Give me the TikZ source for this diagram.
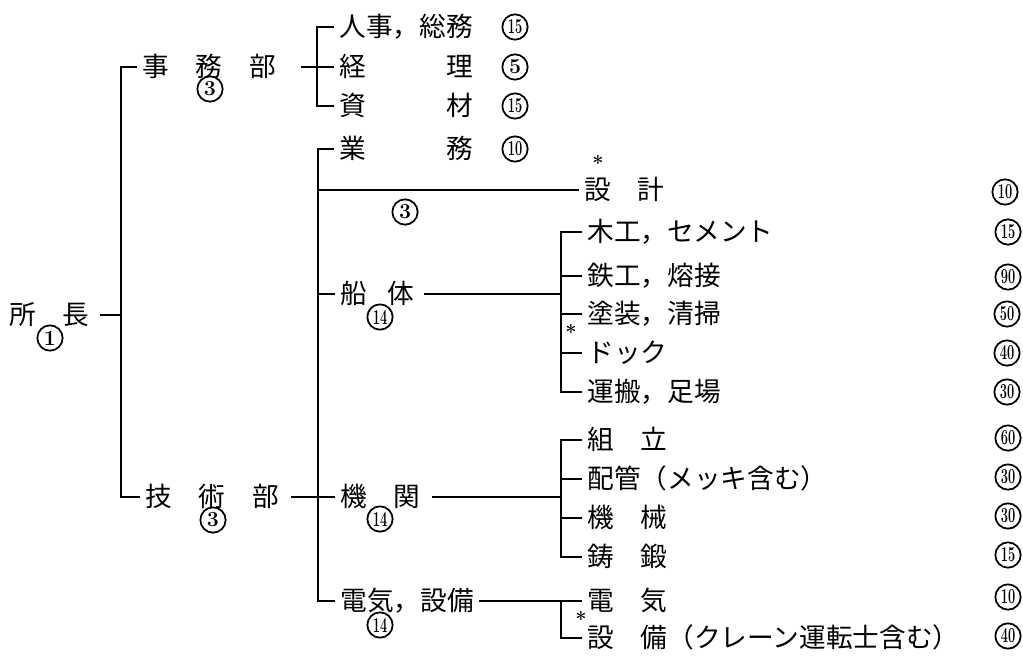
\documentclass[tikz,border=0pt]{standalone}
\usepackage{fontspec}
\usepackage{graphicx}
\newfontfamily\jp{Noto Sans CJK JP}
\newcommand\twod[1]{\scalebox{0.6}[1]{#1}}
\begin{document}
\begin{tikzpicture}[x=0.75pt,y=-0.75pt,
  ln/.style={line width=1.8pt},
  lbl/.style={font=\jp\fontsize{20}{20}\selectfont, inner sep=0pt, outer xsep=4pt, outer ysep=0pt, anchor=west, text height=17pt, text depth=3pt},
  num/.style={circle, draw, line width=1.3pt, minimum size=19pt, inner sep=0pt, font=\bfseries\fontsize{16}{16}\selectfont},
  ast/.style={font=\bfseries\fontsize{15}{15}\selectfont, inner sep=0pt, text height=11.2pt, text depth=-4.5pt}]
\useasboundingbox (0,0) rectangle (1023,656);

% ---------- labels ----------
\node[lbl] (sho)   at (4,315)   {所　長};
\node[num] (n1)    at (50,338)  {1};
\node[lbl] (jimu)  at (137,67)  {事　務　部};
\node[num] (n2)    at (210,89)  {3};
\node[lbl] (giju)  at (140,497) {技　術　部};
\node[num] (n3)    at (213,520) {3};

\node[lbl] (jinji)  at (334,27)  {人事，総務};
\node[num] (n4)     at (515,27)  {\twod{15}};
\node[lbl] (keiri)  at (334,67)  {経　　　理};
\node[num] (n5)     at (515,67)  {5};
\node[lbl] (shizai) at (334,106) {資　　　材};
\node[num] (n6)     at (515,106) {\twod{15}};
\node[lbl] (gyomu)  at (334,149) {業　　　務};
\node[num] (n7)     at (515,149) {\twod{10}};

\node[lbl] (sekkei) at (579,190) {設　計};
\node[ast] (a1)     at (598,163) {*};
\node[num] (n8)     at (1005,192) {\twod{10}};
\node[num] (n9)     at (405,212) {3};

\node[lbl] (sentai) at (335,294) {船\kern15pt 体};
\node[num] (n10)    at (380,317) {\twod{14}};
\node[lbl] (kikan)  at (335,497) {機　関};
\node[num] (n11)    at (380,519) {\twod{14}};
\node[lbl] (denki)  at (335,601) {電気，設備};
\node[num] (n12)    at (380,625) {\twod{14}};

\node[lbl] (mokko)  at (582,232) {木工，セメント};
\node[num] (n13)    at (1008,232) {\twod{15}};
\node[lbl] (tekko)  at (582,276) {鉄工，熔接};
\node[num] (n14)    at (1008,277) {\twod{90}};
\node[lbl] (toso)   at (582,314) {塗装，清掃};
\node[num] (n15)    at (1007,314) {\twod{50}};
\node[ast] (a2)     at (571,332) {*};
\node[lbl] (dock)   at (582,353) {ドック};
\node[num] (n16)    at (1007,353) {\twod{40}};
\node[lbl] (unpan)  at (582,392) {運搬，足場};
\node[num] (n17)    at (1007,392) {\twod{30}};

\node[lbl] (kumi)   at (582,440) {組　立};
\node[num] (n18)    at (1008,438) {\twod{60}};
\node[lbl] (haikan) at (582,479) {配管（メッキ含む）};
\node[num] (n19)    at (1008,477) {\twod{30}};
\node[lbl] (kikai)  at (582,518) {機　械};
\node[num] (n20)    at (1008,516) {\twod{30}};
\node[lbl] (chutan) at (582,557) {鋳　鍛};
\node[num] (n21)    at (1008,555) {\twod{15}};
\node[lbl] (denki2) at (582,601) {電　気};
\node[num] (n22)    at (1008,597) {\twod{10}};
\node[lbl] (setsubi) at (582,638) {設　備（クレーン運転士含む）};
\node[ast] (a3)     at (581,619) {*};
\node[num] (n23)    at (1008,636) {\twod{40}};

% ---------- connectors ----------
% main trunk
\draw[ln] (jimu.west) -- ++(-16,0) coordinate (A) -- (A |- giju.west) -- (giju.west);
\draw[ln,shorten <=4pt] (sho.east) -- (sho.east -| A);

% 事務部 bracket
\draw[ln] (jinji.west) -- ++(-17,0) coordinate (B) |- (shizai.west);
\draw[ln,shorten <=15pt] (jimu.east) -- (keiri.west);

% 技術部 bracket
\draw[ln] (gyomu.west) -- ++(-16,0) coordinate (C) |- (denki.west);
\draw[ln] (C |- sekkei.west) -- (sekkei.west);
\draw[ln] (C |- sentai.west) -- (sentai.west);
\draw[ln,shorten <=5pt] (giju.east) -- (kikan.west);

% 船体 bracket
\draw[ln] (mokko.west) -- ++(-21,0) coordinate (D) |- (unpan.west);
\draw[ln] (D |- tekko.west) -- (tekko.west);
\draw[ln] (D |- toso.west) -- (toso.west);
\draw[ln] (D |- dock.west) -- (dock.west);
\draw[ln,shorten <=4pt] (sentai.east) -- (sentai.east -| D);

% 機関 bracket
\draw[ln] (kumi.west) -- ++(-21,0) coordinate (E) |- (chutan.west);
\draw[ln] (E |- haikan.west) -- (haikan.west);
\draw[ln] (E |- kikai.west) -- (kikai.west);
\draw[ln,shorten <=5pt] (kikan.east) -- (kikan.east -| E);

% 電気・設備 bracket
\draw[ln] (denki.east) -- (denki2.west);
\draw[ln] (denki2.west -| E) |- (setsubi.west);
\end{tikzpicture}
\end{document}
